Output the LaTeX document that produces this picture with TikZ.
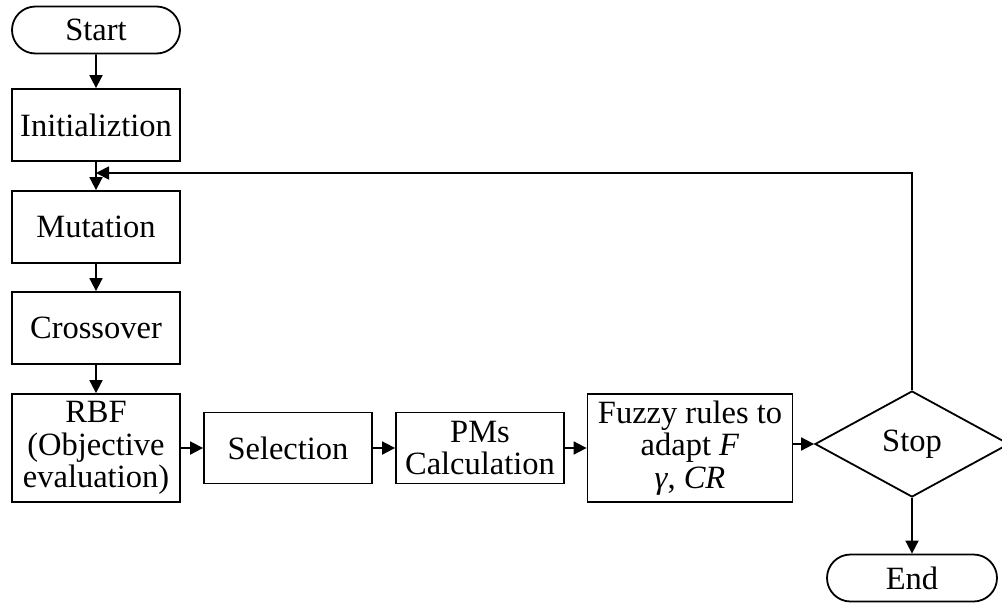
\documentclass[tikz,border=0pt]{standalone}
\usepackage{fontspec}
\setmainfont{Liberation Serif}
\usetikzlibrary{shapes.geometric,shapes.misc,arrows.meta}
\begin{document}
\begin{tikzpicture}[x=1pt,y=-1pt,
  every node/.style={font=\fontsize{32.5}{32.5}\selectfont},
  box/.style={draw,line width=1.8pt,rectangle,minimum width=168pt,inner sep=0pt,align=center},
  term/.style={draw,line width=1.8pt,rounded rectangle,minimum width=168pt,minimum height=47pt,inner sep=0pt},
  dec/.style={draw,line width=1.8pt,diamond,minimum width=194pt,minimum height=106pt,inner sep=0pt},
  arr/.style={line width=1.8pt,-{Triangle[length=13pt,width=13pt]}},
  ln/.style={line width=1.8pt}]
\useasboundingbox (0,0) rectangle (1002,603);
\node[term] (start) at (96,30) {Start};
\node[box,minimum height=72pt] (init) at (96,125) {Initializtion};
\node[box,minimum height=72pt] (mut) at (96,227) {Mutation};
\node[box,minimum height=72pt] (cross) at (96,328) {Crossover};
\node[box,minimum height=108pt] (rbf) at (96,448) {RBF\\(Objective\\evaluation)};
\node[box,minimum height=71pt] (sel) at (288,448) {Selection};
\node[box,minimum height=71pt] (pms) at (480,448) {PMs\\Calculation};
\node[box,minimum width=205pt,minimum height=108pt] (fuzzy) at (690,448) {Fuzzy rules to\\adapt \textit{F}\\\textit{γ}, \textit{CR}};
\node[dec] (stop) at (912,444) {Stop};
\node[term,minimum width=170pt] (end) at (912,578) {End};
\coordinate (join) at (96,173);
\coordinate (corner) at (912,173);
\draw[arr] (start) -- (init);
\draw[arr] (init) -- (mut);
\draw[arr] (mut) -- (cross);
\draw[arr] (cross) -- (rbf);
\draw[arr] (rbf.east |- sel.west) -- (sel.west);
\draw[arr] (sel) -- (pms);
\draw[arr] (pms.east) -- (fuzzy.west |- pms.east);
\draw[arr] (fuzzy.east |- stop.west) -- (stop.west);
\draw[arr] (stop) -- (end);
\draw[arr] (stop.north) -- (corner) -- (join);
\end{tikzpicture}
\end{document}
